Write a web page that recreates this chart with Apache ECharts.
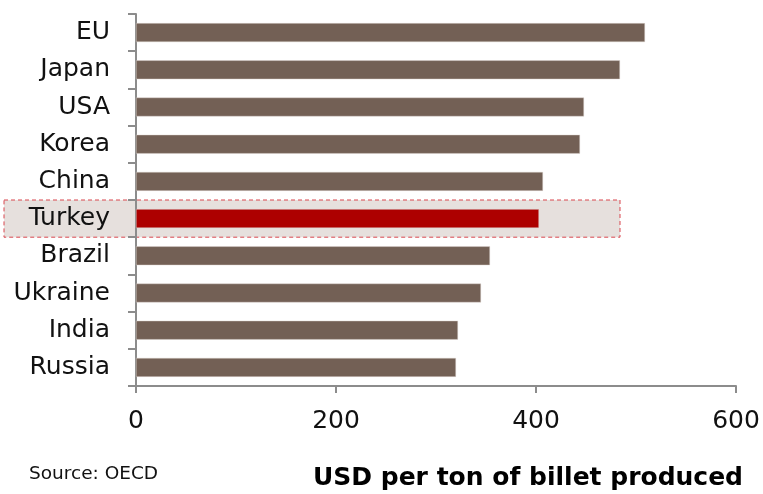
<!DOCTYPE html>
<html>
<head>
<meta charset="utf-8">
<style>
  html, body { margin: 0; padding: 0; background: #fff; }
  #chart { width: 763px; height: 494px; }
</style>
<script src="https://cdn.jsdelivr.net/npm/echarts@6/dist/echarts.min.js"></script>
</head>
<body>
<div id="chart"></div>
<script>
// Steel billet production cost by country (USD per ton)
const countries = ['EU', 'Japan', 'USA', 'Korea', 'China', 'Turkey', 'Brazil', 'Ukraine', 'India', 'Russia'];
const costs = [509, 484, 448, 444, 407, 403, 354, 345, 322, 320];
const xTicks = [0, 200, 400, 600];
const highlighted = 'Turkey';
const highlightExtent = 484; // right edge of the highlight box, in axis units

const BAR = '#736055';
const HIGHLIGHT_BAR = '#ad0000';
const AXIS = '#8c8c8c';
const FONT = 'DejaVu Sans, Verdana, sans-serif';

const chart = echarts.init(document.getElementById('chart'), null, { renderer: 'canvas' });

// category axis runs top-to-bottom, so reverse it
const cats = countries.slice().reverse();
const vals = costs.slice().reverse();

chart.setOption({
  animation: false,
  backgroundColor: '#fff',
  grid: { left: 136, right: 27, top: 14, bottom: 108, containLabel: false },
  xAxis: {
    type: 'value',
    min: xTicks[0],
    max: xTicks[xTicks.length - 1],
    interval: xTicks[1] - xTicks[0],
    axisLine: { show: true, lineStyle: { color: AXIS, width: 2 } },
    axisTick: { show: true, length: 7, lineStyle: { color: AXIS, width: 2 } },
    axisLabel: { color: '#111', fontFamily: FONT, fontSize: 25, margin: 23 },
    splitLine: { show: false }
  },
  yAxis: {
    type: 'category',
    data: cats,
    axisLine: { show: true, lineStyle: { color: AXIS, width: 2 } },
    axisTick: { show: true, length: 8, inside: false, lineStyle: { color: AXIS, width: 2 } },
    axisLabel: { color: '#111', fontFamily: FONT, fontSize: 25, margin: 26 }
  },
  series: [{
    type: 'bar',
    barWidth: '51%',
    data: vals.map((v, i) => ({
      value: v,
      itemStyle: { color: cats[i] === highlighted ? HIGHLIGHT_BAR : BAR }
    })),
    itemStyle: { borderColor: 'rgba(225,215,210,0.9)', borderWidth: 0.5 }
  }]
});

// highlight box behind the emphasised country, sized from the axis scales
const hiCenter = chart.convertToPixel({ yAxisIndex: 0 }, highlighted);
const hiNext = chart.convertToPixel({ yAxisIndex: 0 }, cats[cats.indexOf(highlighted) + 1]);
const band = Math.abs(hiNext - hiCenter);
const hiRight = chart.convertToPixel({ xAxisIndex: 0 }, highlightExtent);

chart.setOption({
  graphic: [
    {
      type: 'rect',
      z: -10,
      shape: { x: 4, y: hiCenter - band / 2, width: hiRight - 4, height: band },
      style: { fill: '#e6e0dd', stroke: '#d9474f', lineWidth: 1, lineDash: [4, 3] }
    },
    {
      type: 'text',
      left: 29, top: 465,
      style: { text: 'Source: OECD', font: '18.5px ' + FONT, fill: '#111' }
    },
    {
      type: 'text',
      right: 20, top: 466,
      style: { text: 'USD per ton of billet produced', font: 'bold 25px ' + FONT, fill: '#000' }
    }
  ]
});
</script>
</body>
</html>
